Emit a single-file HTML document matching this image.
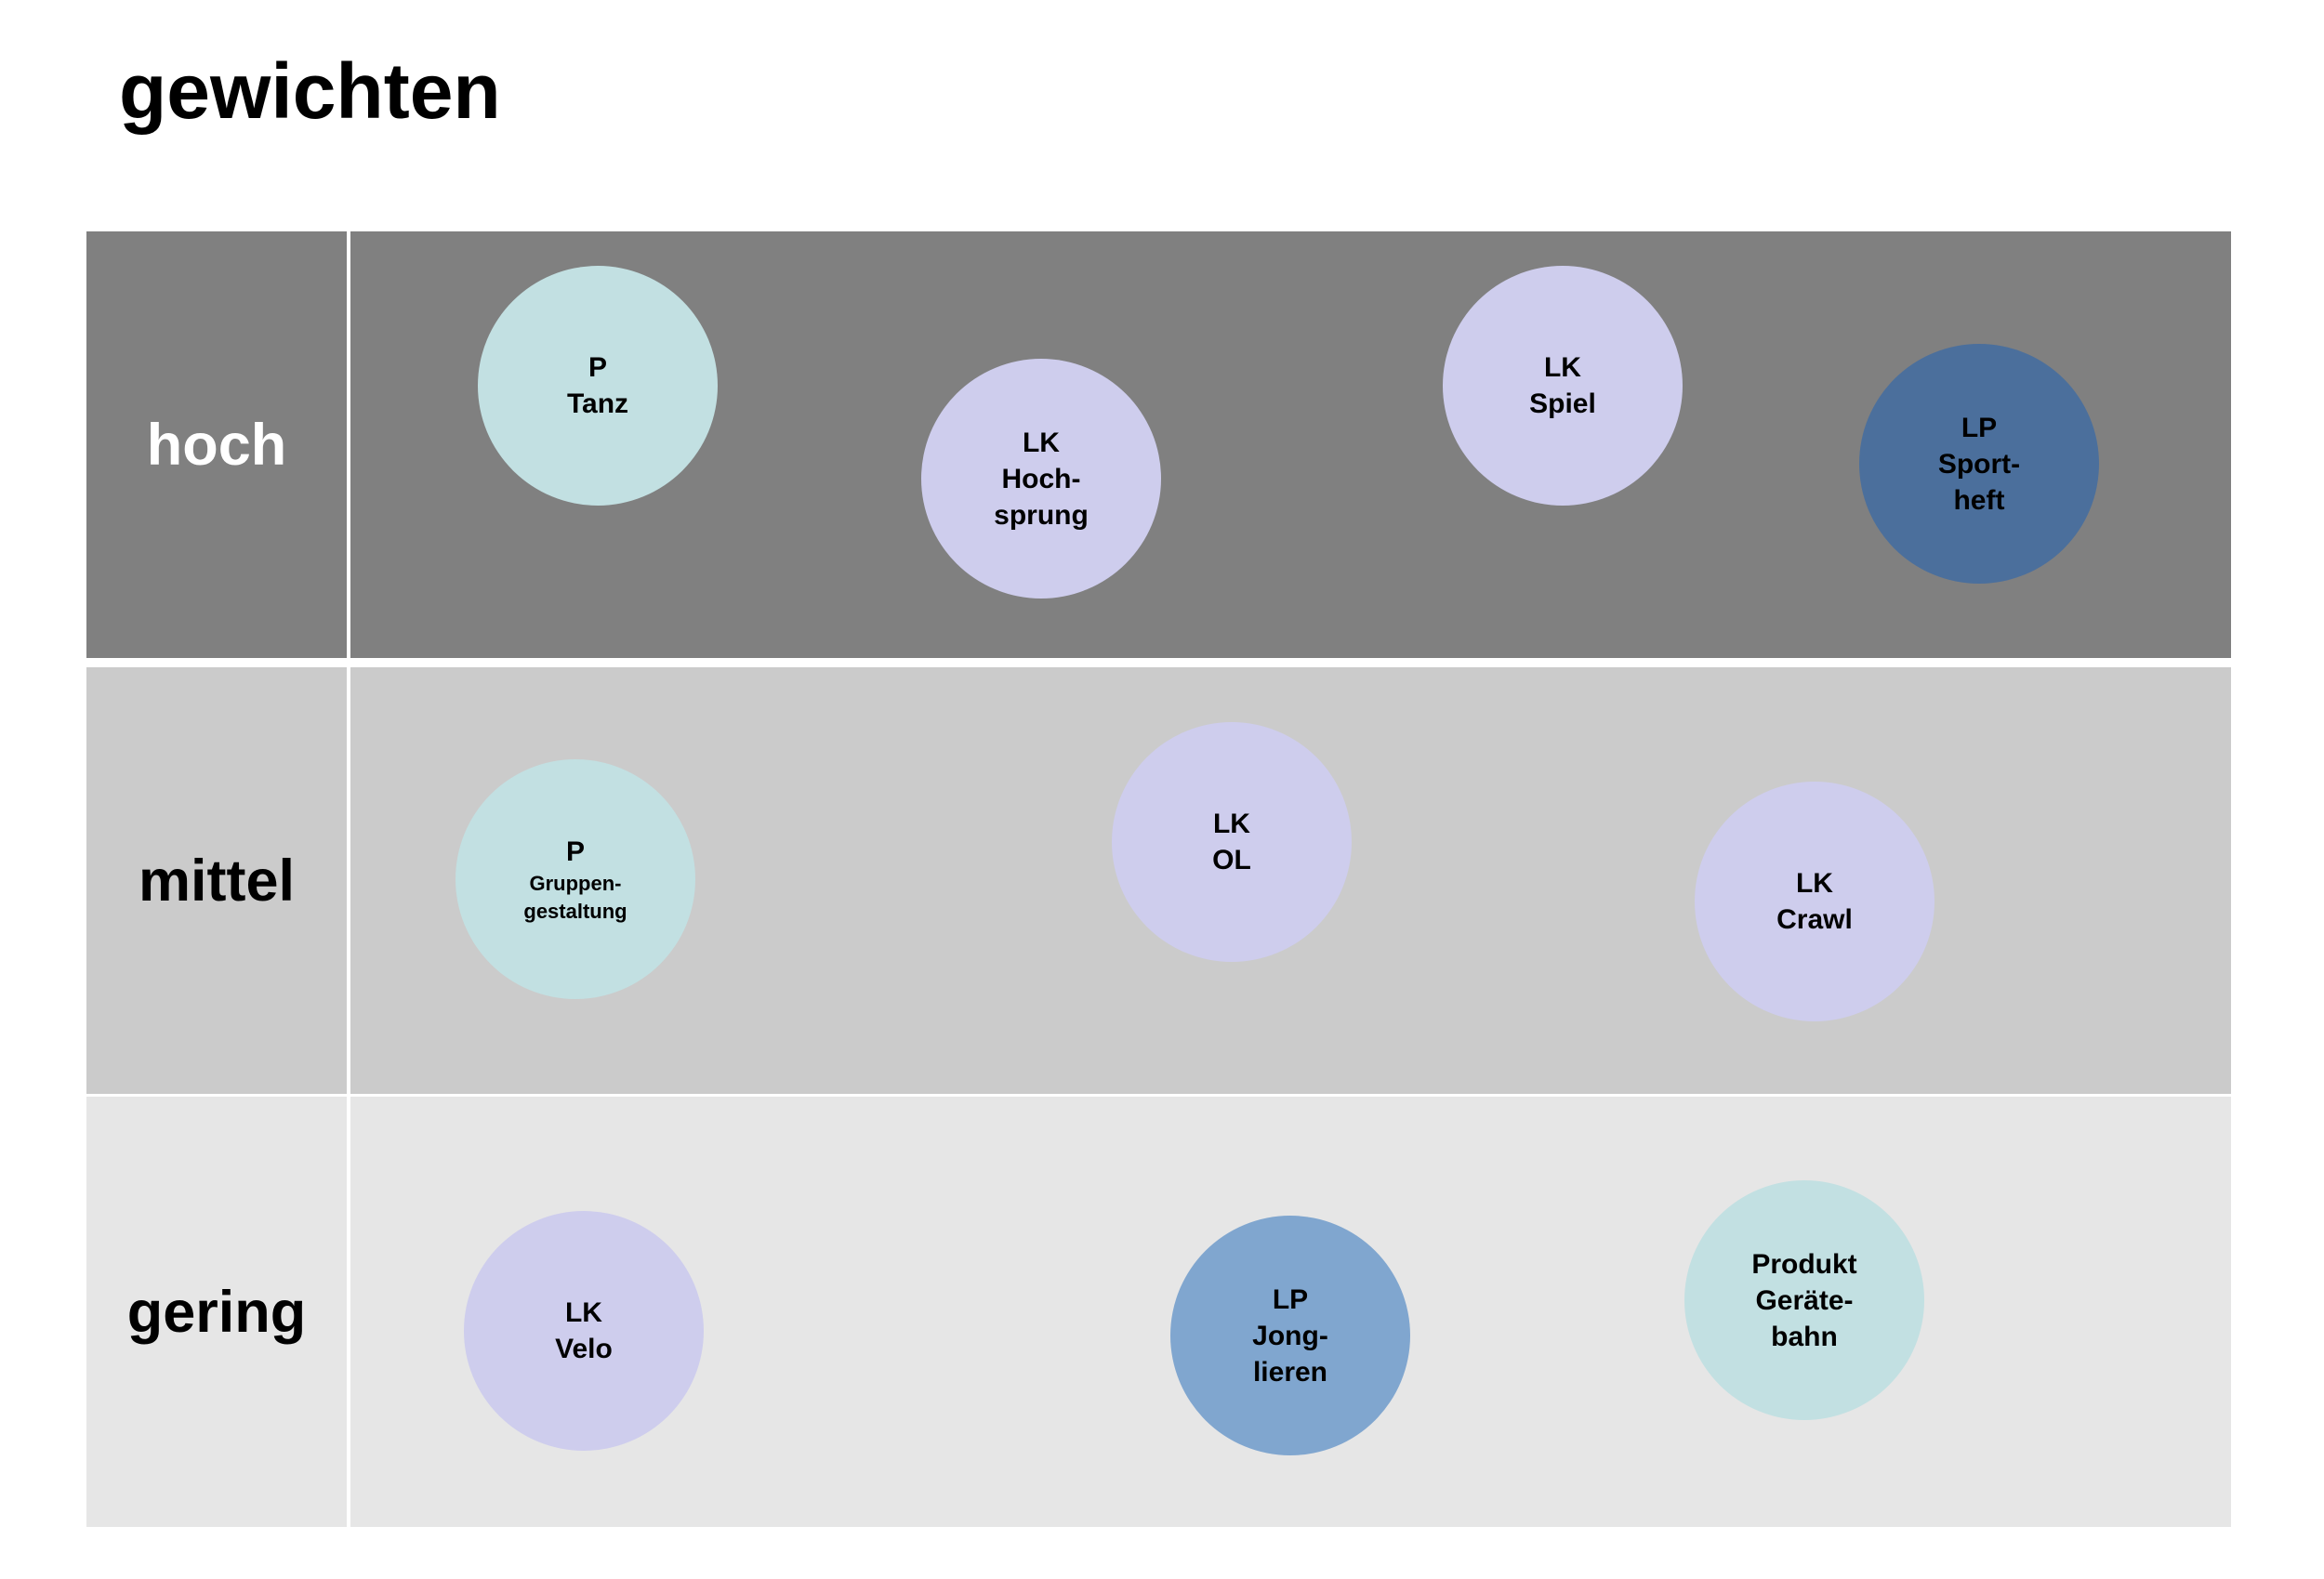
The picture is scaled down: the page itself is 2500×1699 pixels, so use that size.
<!DOCTYPE html>
<html><head><meta charset="utf-8"><style>
html,body{margin:0;padding:0;background:#fff;}
body{width:2500px;height:1699px;position:relative;overflow:hidden;font-family:"Liberation Sans",Arial,sans-serif;}
.title{position:absolute;left:128px;top:50px;font-size:84px;font-weight:bold;color:#000;}
.row{position:absolute;left:93px;width:2307px;}
.lab{position:absolute;left:0;width:280px;top:0;height:100%;display:flex;align-items:center;justify-content:center;font-size:63px;font-weight:bold;}
.vline{position:absolute;left:280px;width:4px;top:0;height:100%;background:#fff;}
.c{position:absolute;width:258px;height:258px;border-radius:50%;display:flex;align-items:center;justify-content:center;text-align:center;font-weight:bold;font-size:30px;line-height:39px;color:#000;}
.small{display:block;font-size:22px;line-height:30px;}
</style></head><body>
<div class="title">gewichten</div>
<div class="row" style="top:249px;height:459px;background:#808080;"><div class="lab" style="color:#fff">hoch</div><div class="vline"></div></div>
<div class="row" style="top:718px;height:459px;background:#cbcbcb;"><div class="lab">mittel</div><div class="vline"></div></div>
<div class="row" style="top:1180px;height:463px;background:#e6e6e6;"><div class="lab">gering</div><div class="vline"></div></div>
<div id="circles"></div>
<script>
const labels=["P<br>Tanz","LK<br>Hoch-<br>sprung","LK<br>Spiel","LP<br>Sport-<br>heft","P<span class='small'>Gruppen-<br>gestaltung</span>","LK<br>OL","LK<br>Crawl","LK<br>Velo","LP<br>Jong-<br>lieren","Produkt<br>Geräte-<br>bahn"];
const xs=[643,1120,1681,2129,619,1325,1952,628,1388,1941];
const ys=[415,515,415,499,946,906,970,1432,1437,1399];
const colors=["#c2e0e2","#cecded","#cecded","#4b6f9c","#c2e0e2","#cecded","#cecded","#cecded","#80a6cf","#c2e0e2"];
const names=["tanz","hochsprung","spiel","sportheft","gruppengestaltung","ol","crawl","velo","jonglieren","geraetebahn"];
const host=document.getElementById('circles');
for(let i=0;i<labels.length;i++){
  const d=document.createElement('div');
  d.className='c';
  d.style.left=(xs[i]-129)+'px';
  d.style.top=(ys[i]-129)+'px';
  d.style.background=colors[i];
  d.innerHTML='<div>'+labels[i]+'</div>';
  
  
  host.appendChild(d);
}
</script>
</body></html>
